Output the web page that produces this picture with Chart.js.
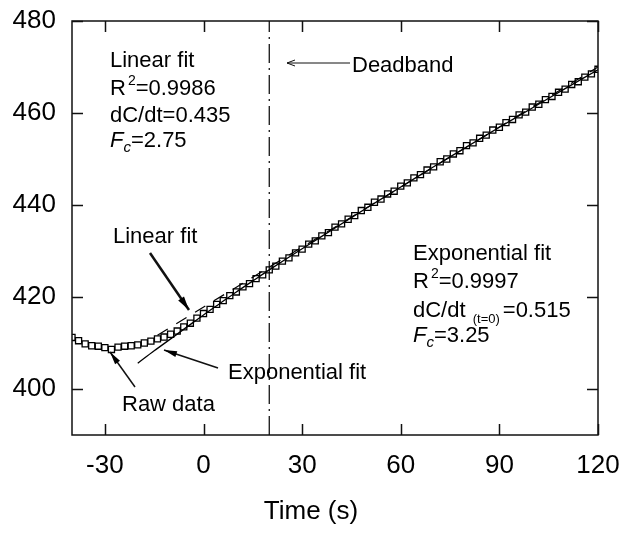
<!DOCTYPE html>
<html>
<head>
<meta charset="utf-8">
<script src="https://cdn.jsdelivr.net/npm/chart.js@4.4.1/dist/chart.umd.min.js"></script>
<style>
  html, body { margin: 0; padding: 0; background: #fff; }
  #wrap { width: 621px; height: 544px; }
</style>
</head>
<body>
<div id="wrap"><canvas id="fitChart" width="621" height="544"></canvas></div>
<script>
// raw CO2 readings, every 2 s
const timeRaw = [-40, -38, -36, -34, -32, -30, -28, -26, -24, -22, -20, -18, -16, -14, -12, -10, -8, -6, -4, -2,
  0, 2, 4, 6, 8, 10, 12, 14, 16, 18, 20, 22, 24, 26, 28, 30, 32, 34, 36, 38,
  40, 42, 44, 46, 48, 50, 52, 54, 56, 58, 60, 62, 64, 66, 68, 70, 72, 74, 76, 78,
  80, 82, 84, 86, 88, 90, 92, 94, 96, 98, 100, 102, 104, 106, 108, 110, 112, 114, 116, 118, 120]
const concRaw = [411.2, 410.5, 409.8, 409.4, 409.3, 409.0, 408.6, 409.1, 409.3, 409.4, 409.6, 410.0, 410.4, 410.9, 411.3, 411.9, 412.6, 413.5, 414.3, 415.4,
  416.4, 417.3, 418.4, 419.2, 420.3, 421.1, 422.2, 422.9, 424.0, 424.8, 425.9, 426.7, 427.8, 428.5, 429.6, 430.4, 431.5, 432.2, 433.3, 434.0,
  435.2, 435.9, 436.9, 437.7, 438.8, 439.5, 440.6, 441.3, 442.4, 443.0, 444.1, 444.8, 445.9, 446.6, 447.6, 448.3, 449.4, 450.0, 451.1, 451.8,
  452.9, 453.5, 454.5, 455.2, 456.3, 456.9, 457.9, 458.6, 459.6, 460.2, 461.3, 461.9, 462.9, 463.6, 464.5, 465.2, 466.2, 466.8, 467.8, 468.5, 469.5]

// exponential fit curve
const timeExp = [-20, -15, -10, -5, 0, 5, 10, 15, 20, 30, 40, 50, 60, 70, 80, 90, 100, 110, 120]
const concExp = [405.6, 408.3, 410.9, 413.5, 416.1, 418.6, 421.1, 423.5, 425.9, 430.5, 435.0, 439.5, 443.9, 448.3, 452.6, 456.9, 461.1, 465.3, 469.4]

// linear fit
const timeLin = [-14, 120]
const concLin = [411.7, 470.0]

// deadband marker
const timeDeadband = [20, 20]
const concDeadband = [390, 480]

const xTicks = [-30, 0, 30, 60, 90, 120]
const yTicks = [400, 420, 440, 460, 480]

const FONT = '"Liberation Sans", Arial, sans-serif'

function pts(xs, ys) {
  return xs.map((x, i) => ({ x: x, y: ys[i] }))
}

// text with sub/superscript pieces
function drawRuns(ctx, x, y, runs) {
  let cx = x
  runs.forEach(r => {
    ctx.font = (r.italic ? 'italic ' : '') + (r.size || 22) + 'px ' + FONT
    ctx.fillText(r.t, cx, y + (r.dy || 0))
    cx += ctx.measureText(r.t).width + (r.gap || 0)
  })
}

function arrow(ctx, x1, y1, x2, y2, lw, headLen, headW, open) {
  ctx.save()
  ctx.lineWidth = lw
  ctx.beginPath()
  ctx.moveTo(x1, y1)
  ctx.lineTo(x2, y2)
  ctx.stroke()
  const a = Math.atan2(y2 - y1, x2 - x1)
  const bx = x2 - headLen * Math.cos(a), by = y2 - headLen * Math.sin(a)
  const nx = -Math.sin(a) * headW / 2, ny = Math.cos(a) * headW / 2
  ctx.beginPath()
  ctx.moveTo(bx + nx, by + ny)
  ctx.lineTo(x2, y2)
  ctx.lineTo(bx - nx, by - ny)
  if (open) {
    ctx.stroke()
  } else {
    ctx.closePath()
    ctx.fill()
  }
  ctx.restore()
}

const framePlugin = {
  id: 'frame',
  afterDraw(chart) {
    const ctx = chart.ctx
    const a = chart.chartArea
    const xs = chart.scales.x, ys = chart.scales.y
    ctx.save()
    ctx.strokeStyle = '#111'
    ctx.fillStyle = '#000'
    ctx.lineWidth = 1.5
    ctx.strokeRect(a.left, a.top, a.right - a.left, a.bottom - a.top)
    const tl = 11
    ctx.beginPath()
    xTicks.forEach(v => {
      const p = Math.round(xs.getPixelForValue(v)) + 0.5
      ctx.moveTo(p, a.bottom); ctx.lineTo(p, a.bottom - tl)
      ctx.moveTo(p, a.top); ctx.lineTo(p, a.top + tl)
    })
    yTicks.forEach(v => {
      const p = Math.round(ys.getPixelForValue(v)) + 0.5
      ctx.moveTo(a.left, p); ctx.lineTo(a.left + tl, p)
      ctx.moveTo(a.right, p); ctx.lineTo(a.right - tl, p)
    })
    ctx.stroke()

    // axis title
    ctx.font = '26px ' + FONT
    ctx.textAlign = 'center'
    ctx.textBaseline = 'alphabetic'
    ctx.fillText('Time (s)', 311, 519)

    // annotations
    ctx.textAlign = 'left'
    drawRuns(ctx, 110, 67, [{ t: 'Linear fit' }])
    drawRuns(ctx, 110, 95, [{ t: 'R' , gap: 2}, { t: '2', size: 14, dy: -10 }, { t: '=0.9986' }])
    drawRuns(ctx, 110, 121.5, [{ t: 'dC/dt=0.435' }])
    drawRuns(ctx, 110, 147, [{ t: 'F', italic: true }, { t: 'c', italic: true, size: 15, dy: 5 }, { t: '=2.75' }])

    drawRuns(ctx, 413, 260, [{ t: 'Exponential fit' }])
    drawRuns(ctx, 413, 288, [{ t: 'R', gap: 2 }, { t: '2', size: 14, dy: -10 }, { t: '=0.9997' }])
    drawRuns(ctx, 413, 316.5, [{ t: 'dC/dt ', gap: 1 }, { t: '(t=0)', size: 13, dy: 6, gap: 3 }, { t: '=0.515' }])
    drawRuns(ctx, 413, 342, [{ t: 'F', italic: true }, { t: 'c', italic: true, size: 15, dy: 5 }, { t: '=3.25' }])

    drawRuns(ctx, 352, 71.5, [{ t: 'Deadband' }])
    drawRuns(ctx, 113, 242.5, [{ t: 'Linear fit' }])
    drawRuns(ctx, 228, 379, [{ t: 'Exponential fit' }])
    drawRuns(ctx, 122, 410.5, [{ t: 'Raw data' }])

    arrow(ctx, 350, 63, 287, 63, 1, 8, 6, true)
    arrow(ctx, 150, 253, 189, 310, 2.5, 14, 7, false)
    arrow(ctx, 218, 368, 164, 350, 1.5, 13, 6, false)
    arrow(ctx, 135, 387, 110, 352, 1.5, 13, 6, false)
    ctx.restore()
  }
}

const chart = new Chart(document.getElementById('fitChart').getContext('2d'), {
  type: 'scatter',
  data: {
    datasets: [
      {
        label: 'Raw data',
        data: pts(timeRaw, concRaw),
        pointStyle: 'rect',
        pointRadius: 4.3,
        pointBorderWidth: 1.3,
        pointBorderColor: '#000',
        pointBackgroundColor: 'rgba(255,255,255,0)',
        showLine: false
      },
      {
        label: 'Exponential fit',
        data: pts(timeExp, concExp),
        showLine: true,
        borderColor: '#000',
        borderWidth: 1.3,
        pointRadius: 0,
        tension: 0.3
      },
      {
        label: 'Linear fit',
        data: pts(timeLin, concLin),
        showLine: true,
        borderColor: '#000',
        borderWidth: 1.2,
        borderDash: [12, 10],
        pointRadius: 0
      },
      {
        label: 'Deadband',
        data: pts(timeDeadband, concDeadband),
        showLine: true,
        borderColor: '#000',
        borderWidth: 1.2,
        borderDash: [19, 5, 2, 5],
        pointRadius: 0
      }
    ]
  },
  options: {
    responsive: false,
    animation: false,
    layout: { autoPadding: false, padding: { top: 21, right: 23, left: 0, bottom: 0 } },
    plugins: {
      legend: { display: false },
      tooltip: { enabled: false }
    },
    scales: {
      x: {
        type: 'linear',
        min: -40,
        max: 120,
        afterBuildTicks: s => { s.ticks = xTicks.map(v => ({ value: v })) },
        afterFit: s => { s.height = 109; s.paddingLeft = 0; s.paddingRight = 0 },
        grid: { display: false, drawTicks: false },
        border: { display: false },
        ticks: { color: '#000', font: { family: FONT, size: 26 }, padding: 15, maxRotation: 0 }
      },
      y: {
        type: 'linear',
        min: 390,
        max: 480,
        afterBuildTicks: s => { s.ticks = yTicks.map(v => ({ value: v })) },
        afterFit: s => { s.width = 72; s.paddingTop = 0; s.paddingBottom = 0 },
        grid: { display: false, drawTicks: false },
        border: { display: false },
        ticks: { color: '#000', font: { family: FONT, size: 26 }, padding: 16 }
      }
    }
  },
  plugins: [framePlugin]
})
</script>
</body>
</html>
